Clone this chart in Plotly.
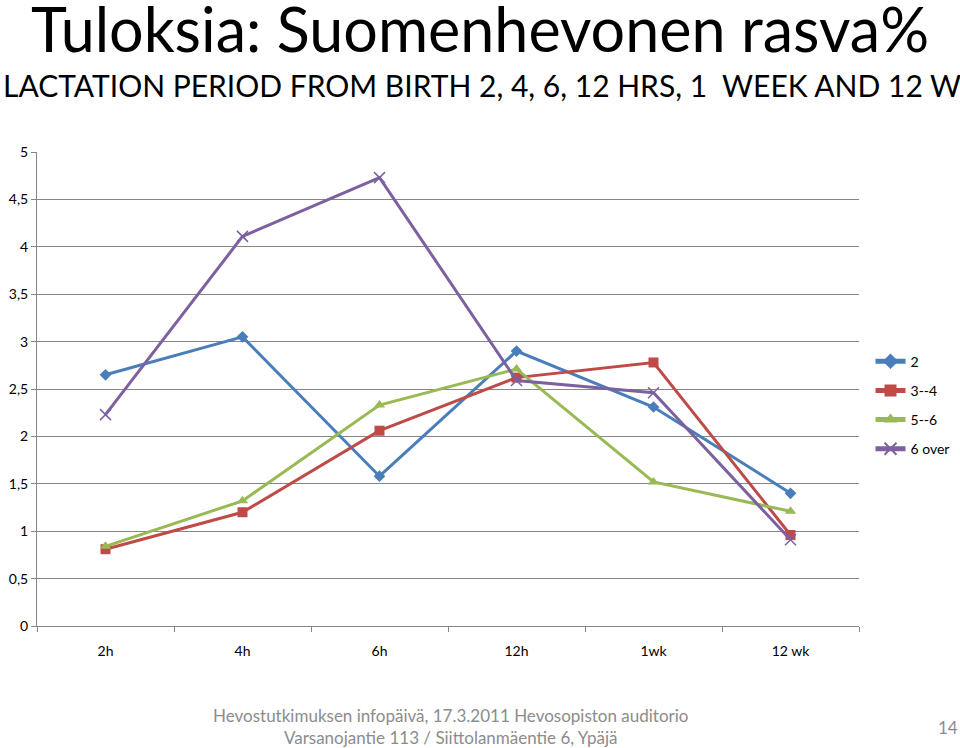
import plotly.graph_objects as go

categories = ["2h", "4h", "6h", "12h", "1wk", "12 wk"]
series_names = ["2", "3--4", "5--6", "6 over"]
vals_2 = [2.65, 3.05, 1.58, 2.90, 2.31, 1.40]
vals_34 = [0.81, 1.20, 2.06, 2.62, 2.78, 0.96]
vals_56 = [0.84, 1.32, 2.33, 2.71, 1.52, 1.21]
vals_6over = [2.23, 4.11, 4.73, 2.59, 2.46, 0.91]
y_ticks = [0, 0.5, 1, 1.5, 2, 2.5, 3, 3.5, 4, 4.5, 5]

colors = ["#4A7EBB", "#BE4B48", "#98B954", "#7D60A0"]
symbols = ["diamond", "square", "triangle-up", "x-thin-open"]
sizes = [9, 10, 10, 11]
all_vals = [vals_2, vals_34, vals_56, vals_6over]

FONT = "Lato"

fig = go.Figure()
for i, (name, vals, c, s, sz) in enumerate(zip(series_names, all_vals, colors, symbols, sizes)):
    marker = dict(symbol=s, size=sz, color=c)
    if s == "x-thin-open":
        marker["line"] = dict(color=c, width=1.5)
    fig.add_trace(go.Scatter(
        x=categories, y=vals, name=name, mode="lines+markers",
        legendgroup=f"g{i}",
        line=dict(color=c, width=3), marker=marker,
    ))

fig.update_layout(
    width=960, height=748,
    paper_bgcolor="white", plot_bgcolor="white",
    margin=dict(l=37, r=101, t=152, b=122, autoexpand=False),
    separators=", ",
    font=dict(family=FONT, size=14, color="#000000"),
    showlegend=True,
    legend=dict(x=1.014, y=0.466, xanchor="left", yanchor="middle",
                font=dict(family=FONT, size=14, color="#000000"),
                tracegroupgap=8, itemsizing="constant",
                bgcolor="rgba(0,0,0,0)"),
    xaxis=dict(type="category", showgrid=False, showline=True,
               linecolor="#868686", linewidth=1,
               ticks="outside", tickson="boundaries", ticklen=5,
               tickcolor="#868686", ticklabelstandoff=12,
               tickfont=dict(family=FONT, size=14, color="#000000"),
               range=[-0.5, 5.5]),
    yaxis=dict(range=[0, 5], tickvals=y_ticks, showgrid=True,
               gridcolor="#868686", gridwidth=1,
               showline=True, linecolor="#868686", linewidth=1,
               ticks="outside", ticklen=5, tickcolor="#868686",
               tickfont=dict(family=FONT, size=14, color="#000000"),
               zeroline=False, tickformat=".1~f"),
)

fig.add_annotation(text="Tuloksia: Suomenhevonen rasva%", xref="paper", yref="paper",
                   x=(480 - 37) / 822, y=(626 - 28) / 474, xanchor="center", yanchor="middle",
                   showarrow=False, font=dict(family=FONT, size=61, color="#000000"))
fig.add_annotation(text="LACTATION PERIOD FROM BIRTH 2, 4, 6, 12 HRS, 1  WEEK AND 12 W",
                   xref="paper", yref="paper",
                   x=(1 - 37) / 822, y=(626 - 85) / 474, xanchor="left", yanchor="middle",
                   showarrow=False, font=dict(family=FONT, size=30, color="#000000"))
fig.add_annotation(text="Hevostutkimuksen infopäivä, 17.3.2011 Hevosopiston auditorio<br>Varsanojantie 113 / Siittolanmäentie 6, Ypäjä",
                   xref="paper", yref="paper",
                   x=(450 - 37) / 822, y=(626 - 726) / 474, xanchor="center", yanchor="middle",
                   showarrow=False, align="center",
                   font=dict(family=FONT, size=17, color="#8C8C8C"))
fig.add_annotation(text="14", xref="paper", yref="paper",
                   x=(948 - 37) / 822, y=(626 - 727) / 474, xanchor="center", yanchor="middle",
                   showarrow=False, font=dict(family=FONT, size=17, color="#8C8C8C"))

fig.write_html("out.html")
